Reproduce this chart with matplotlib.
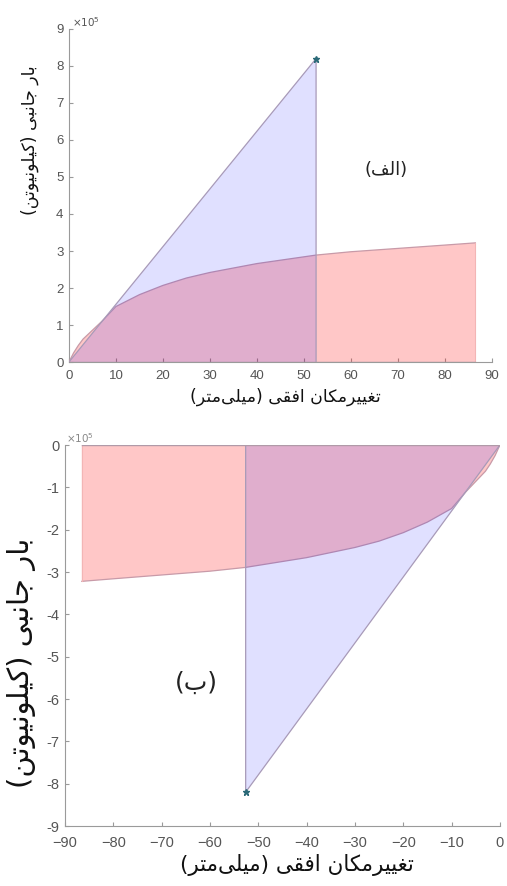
import numpy as np
import matplotlib
matplotlib.use("Agg")
import matplotlib.pyplot as plt
from matplotlib.ticker import FuncFormatter

# Values (displacement in mm, load as plotted)
disp_curve = [0, 1, 2, 3, 5, 7, 10, 15, 20, 25, 30, 40, 52.6, 60, 70, 80, 86.5]
load_curve = [0, 0.25e5, 0.45e5, 0.62e5, 0.86e5, 1.1e5, 1.5e5, 1.82e5, 2.07e5,
              2.27e5, 2.42e5, 2.66e5, 2.89e5, 2.98e5, 3.07e5, 3.16e5, 3.22e5]
disp_peak = 52.6
load_peak = 8.2e5

x_ticks_top = [0, 10, 20, 30, 40, 50, 60, 70, 80, 90]
y_ticks_top = [0, 1, 2, 3, 4, 5, 6, 7, 8, 9]
x_ticks_bot = [-90, -80, -70, -60, -50, -40, -30, -20, -10, 0]
y_ticks_bot = [-9, -8, -7, -6, -5, -4, -3, -2, -1, 0]

xlabel_fa = "تغییرمکان افقی (میلی\u200cمتر)"
ylabel_fa = "بار جانبی (کیلونیوتن)"
tag_top = "(الف)"
tag_bot = "(ب)"

# minimal Persian shaping (no arabic_reshaper available)
FORMS = {
    'ا': ('\uFE8D', '\uFE8E', None, None),
    'ب': ('\uFE8F', '\uFE90', '\uFE91', '\uFE92'),
    'ت': ('\uFE95', '\uFE96', '\uFE97', '\uFE98'),
    'ج': ('\uFE9D', '\uFE9E', '\uFE9F', '\uFEA0'),
    'ر': ('\uFEAD', '\uFEAE', None, None),
    'غ': ('\uFECD', '\uFECE', '\uFECF', '\uFED0'),
    'ف': ('\uFED1', '\uFED2', '\uFED3', '\uFED4'),
    'ق': ('\uFED5', '\uFED6', '\uFED7', '\uFED8'),
    'ک': ('\uFB8E', '\uFB8F', '\uFB90', '\uFB91'),
    'ل': ('\uFEDD', '\uFEDE', '\uFEDF', '\uFEE0'),
    'م': ('\uFEE1', '\uFEE2', '\uFEE3', '\uFEE4'),
    'ن': ('\uFEE5', '\uFEE6', '\uFEE7', '\uFEE8'),
    'و': ('\uFEED', '\uFEEE', None, None),
    'ی': ('\uFBFC', '\uFBFD', '\uFBFE', '\uFBFF'),
}


def shape(text):
    out = []
    n = len(text)
    for i, ch in enumerate(text):
        if ch == '\u200c':
            continue
        if ch not in FORMS:
            out.append(ch)
            continue
        prev = text[i - 1] if i > 0 else ''
        nxt = text[i + 1] if i < n - 1 else ''
        jp = prev in FORMS and FORMS[prev][2] is not None
        jn = FORMS[ch][2] is not None and nxt in FORMS
        iso, fin, ini, med = FORMS[ch]
        if jp and jn:
            out.append(med)
        elif jp:
            out.append(fin)
        elif jn:
            out.append(ini)
        else:
            out.append(iso)
    vis = ''.join(reversed(out))
    return vis.translate(str.maketrans('()', ')('))


plt.rcParams.update({
    'font.family': ['Liberation Sans', 'DejaVu Sans'],
    'axes.edgecolor': '#9a9a9a',
    'xtick.color': '#9a9a9a',
    'ytick.color': '#9a9a9a',
    'xtick.labelcolor': '#555555',
    'ytick.labelcolor': '#555555',
})

pink = '#ff0000'
blue = '#0000ff'
gray_txt = '#555555'
fa_font = ['DejaVu Sans']

fig = plt.figure(figsize=(5.07, 8.86), dpi=100)
ax1 = fig.add_axes([0.136, 0.5914, 0.834, 0.3759])
ax2 = fig.add_axes([0.128, 0.0677, 0.858, 0.4300])

dc = np.array(disp_curve)
lc = np.array(load_curve)

for ax, sgn in [(ax1, 1), (ax2, -1)]:
    ax.fill_between(sgn * dc, 0, sgn * lc, facecolor=pink, alpha=0.22,
                    edgecolor='none', zorder=2)
    ax.plot(sgn * dc, sgn * lc, color='#c89aa8', lw=0.9, zorder=3)
    ax.plot([sgn * dc[-1], sgn * dc[-1]], [0, sgn * lc[-1]], color='#f3b5b5', lw=0.8, zorder=3)
    tri_x = [0, sgn * disp_peak, sgn * disp_peak]
    tri_y = [0, sgn * load_peak, 0]
    ax.fill(tri_x, tri_y, facecolor=blue, alpha=0.12, edgecolor='none', zorder=4)
    ax.plot(tri_x, tri_y, color='#a89ab8', lw=0.9, zorder=5)
    ax.plot([0, sgn * dc[-1]], [0, 0], color='#b09aa8', lw=1.0, zorder=5)
    ax.plot([sgn * disp_peak], [sgn * load_peak], marker='*', ms=5,
            color='#2b6a78', zorder=6)
    for s in ['top', 'right']:
        ax.spines[s].set_visible(False)
    ax.tick_params(direction='in', length=3, width=0.8)
    ax.yaxis.set_major_formatter(FuncFormatter(lambda v, p: f"{v / 1e5:g}"))

ax1.set_xlim(0, 90)
ax1.set_ylim(0, 9e5)
ax1.set_xticks(x_ticks_top)
ax1.set_yticks([v * 1e5 for v in y_ticks_top])
ax1.tick_params(axis='x', labelsize=9.5, pad=6)
ax1.tick_params(axis='y', labelsize=9.5, pad=4)
ax1.text(0.008, 1.0, r'$\times10^{5}$', transform=ax1.transAxes, fontsize=7.5,
         color=gray_txt, ha='left', va='bottom')
ax1.text(67.5, 5.2e5, shape(tag_top), family=fa_font, fontsize=13,
         ha='center', va='center', color='#222222')

ax2.set_xlim(-90, 0)
ax2.set_ylim(-9e5, 0)
ax2.set_xticks(x_ticks_bot)
ax2.set_yticks([v * 1e5 for v in y_ticks_bot])
ax2.tick_params(axis='x', labelsize=10.5, pad=7)
ax2.tick_params(axis='y', labelsize=10.5, pad=4)
ax2.text(0.003, 1.0, r'$\times10^{5}$', transform=ax2.transAxes, fontsize=7.5,
         color='#888888', ha='left', va='bottom')
ax2.text(-62.7, -5.62e5, shape(tag_bot), family=fa_font, fontsize=18,
         ha='center', va='center', color='#222222')

fig.text(285 / 507, 1 - 397 / 886, shape(xlabel_fa), family=fa_font, fontsize=12.5,
         ha='center', va='center', color='#111111')
fig.text(30 / 507, 1 - 140 / 886, shape(ylabel_fa), family=fa_font, fontsize=12.5,
         ha='center', va='center', rotation=90, color='#111111')
fig.text(297 / 507, 1 - 865 / 886, shape(xlabel_fa), family=fa_font, fontsize=15.5,
         ha='center', va='center', color='#111111')
fig.text(22 / 507, 1 - 663 / 886, shape(ylabel_fa), family=fa_font, fontsize=21,
         ha='center', va='center', rotation=90, color='#111111')

fig.savefig('out.png', dpi=100)
